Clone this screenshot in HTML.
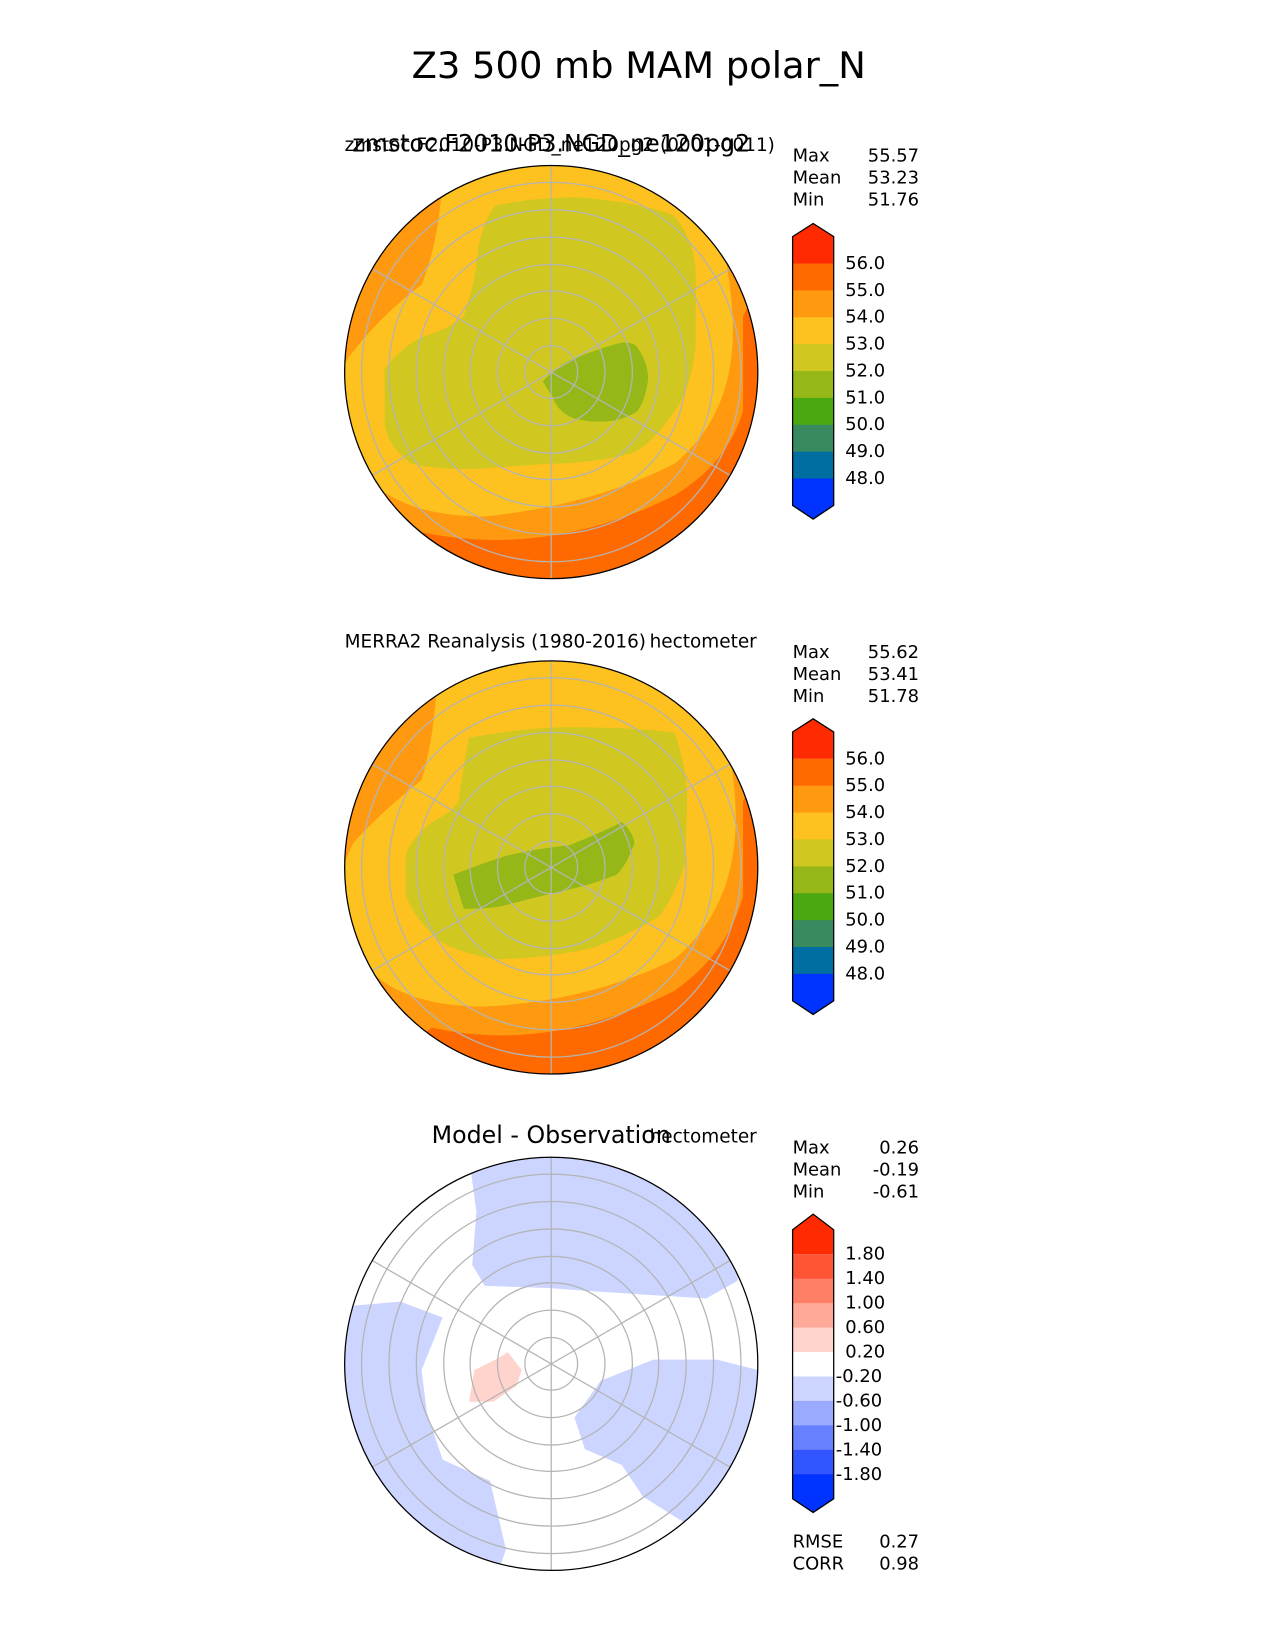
<!DOCTYPE html>
<html><head><meta charset="utf-8"><style>
html,body{margin:0;padding:0;background:#fff;}
svg{display:block;font-family:"DejaVu Sans","Liberation Sans",sans-serif;}
</style></head><body>
<svg id="fig" width="1275" height="1650" viewBox="0 0 1209.7 1565.5" preserveAspectRatio="none">
<defs>
<clipPath id="c1"><circle cx="523" cy="353" r="196"/></clipPath>
<clipPath id="c2"><circle cx="523" cy="823" r="196"/></clipPath>
<clipPath id="c3"><circle cx="523" cy="1294" r="196"/></clipPath>
</defs>
<text x="606" y="62" font-size="35" text-anchor="middle" dominant-baseline="central">Z3 500 mb MAM polar_N</text>

<!-- Panel 1 -->
<g clip-path="url(#c1)">
<rect x="320" y="150" width="410" height="410" fill="#ff9a10"/>
<path d="M320,335 Q330,280 350,250 Q360,225 375,200 L320,200 Z" fill="#ff6a00"/>
<path d="M400,505 Q520,530 640,470 Q690,440 705,390 L705,300 L715,280 L730,560 L320,560 Z" fill="#ff6a00"/>
<path d="M420,150 L640,150 Q690,200 695,300 Q700,390 640,440 Q560,480 460,490 Q380,490 345,450 Q320,420 320,360 L330,340 Q360,300 400,270 Q420,220 420,150 Z" fill="#fdc120"/>
<path d="M470,195 Q520,185 560,188 Q620,195 640,205 Q660,230 660,260 L660,330 Q655,370 640,390 Q620,420 600,430 Q560,440 520,440 L450,445 Q410,445 390,440 Q365,420 365,400 L365,350 Q380,330 400,320 Q430,310 440,300 Q450,270 452,250 Q455,215 470,195 Z" fill="#d0c820"/>
<path d="M515,362 Q525,350 540,342 Q570,330 590,325 Q603,325 605,330 Q615,345 615,360 Q612,380 605,390 Q590,400 570,400 Q550,400 540,395 Q528,388 525,378 Z" fill="#95b818"/>
</g>
<g clip-path="url(#c1)" class="grid" id="g1"></g>
<circle cx="523" cy="353" r="196" fill="none" stroke="#000" stroke-width="1.2"/>
<text x="327" y="138" font-size="17.5" dominant-baseline="central">zmstoc.F2010-P3.NGD_ne120pg2 (0001-0011)</text>
<text x="523" y="136" font-size="22.5" text-anchor="middle" dominant-baseline="central">zmstoc.F2010-P3.NGD_ne120pg2</text>

<!-- Panel 2 -->
<g clip-path="url(#c2)">
<rect x="320" y="620" width="410" height="410" fill="#ff9a10"/>
<path d="M320,800 Q335,750 350,720 Q360,690 370,665 L320,660 Z" fill="#ff6a00"/>
<path d="M410,975 Q520,1000 640,940 Q690,905 705,850 L705,760 L715,740 L730,1030 L320,1030 Z" fill="#ff6a00"/>
<path d="M415,620 L640,620 Q695,670 698,770 Q700,860 640,910 Q560,950 460,955 Q385,955 350,920 Q322,890 322,830 L335,800 Q362,770 400,740 Q415,690 415,620 Z" fill="#fdc120"/>
<path d="M445,700 Q500,690 540,690 Q600,690 640,695 Q652,730 652,760 L650,820 Q640,850 625,870 Q590,890 560,900 Q510,910 470,910 Q440,905 420,895 Q395,875 385,850 L385,810 Q395,790 410,780 Q430,770 435,760 Q440,725 445,700 Z" fill="#d0c820"/>
<path d="M430,830 Q455,820 480,812 Q510,805 540,802 Q570,790 590,780 Q600,788 602,800 Q595,820 585,830 Q560,840 535,845 Q505,852 475,860 Q455,863 440,862 Z" fill="#95b818"/>
</g>
<g clip-path="url(#c2)" id="g2"></g>
<circle cx="523" cy="823" r="196" fill="none" stroke="#000" stroke-width="1.2"/>
<text x="327" y="609" font-size="17.5" dominant-baseline="central">MERRA2 Reanalysis (1980-2016)</text>
<text x="718" y="609" font-size="17.5" text-anchor="end" dominant-baseline="central">hectometer</text>

<!-- Panel 3 -->
<g clip-path="url(#c3)">
<rect x="320" y="1090" width="410" height="410" fill="#fff"/>
<path d="M445,1098 L700,1098 L700,1215 L670,1232 L560,1225 L520,1222 L460,1220 L448,1200 L452,1150 Z" fill="#ccd5ff"/>
<path d="M320,1240 L380,1235 L420,1250 L400,1300 L405,1340 L420,1385 L465,1405 L480,1470 L470,1500 L320,1500 Z" fill="#ccd5ff"/>
<path d="M545,1345 L570,1310 L620,1290 L680,1290 L720,1300 L720,1450 L650,1445 L610,1420 L590,1390 L555,1375 Z" fill="#ccd5ff"/>
<path d="M445,1330 L450,1300 L470,1290 L482,1283 L495,1300 L490,1315 L468,1330 Z" fill="#ffd4cc"/>
</g>
<g clip-path="url(#c3)" id="g3"></g>
<circle cx="523" cy="1294" r="196" fill="none" stroke="#000" stroke-width="1.2"/>
<text x="523" y="1077" font-size="22.5" text-anchor="middle" dominant-baseline="central">Model - Observation</text>
<text x="718" y="1079" font-size="17.5" text-anchor="end" dominant-baseline="central">hectometer</text>

<g id="bars"></g>
</svg>
<script>
// colorbar levels and colors
const absLevels = ["56.0","55.0","54.0","53.0","52.0","51.0","50.0","49.0","48.0"];
const absColors = ["#ff2a00","#ff6a00","#ff9a10","#fdc120","#d0c820","#95b818","#4ca810","#3a8a60","#006ea0","#0033ff"];
const diffLevels = ["1.80","1.40","1.00","0.60","0.20","-0.20","-0.60","-1.00","-1.40","-1.80"];
const diffColors = ["#ff2a00","#ff5535","#ff7f66","#ffaa99","#ffd4cc","#ffffff","#ccd5ff","#99aaff","#6680ff","#3355ff","#0033ff"];
const statNames = ["Max","Mean","Min"];
const modelStats = ["55.57","53.23","51.76"];
const obsStats = ["55.62","53.41","51.78"];
const diffStats = ["0.26","-0.19","-0.61"];
const metricNames = ["RMSE","CORR"];
const metricValues = ["0.27","0.98"];
const ringRadii = [25,51,77,102,128,154,180];
const meridianAngles = [90,30,-30];

const NS="http://www.w3.org/2000/svg";
function mk(tag,attrs,parent){const e=document.createElementNS(NS,tag);for(const k in attrs)e.setAttribute(k,attrs[k]);parent.appendChild(e);return e;}

[["g1",353],["g2",823],["g3",1294]].forEach(([id,cy])=>{
  const g=document.getElementById(id);
  ringRadii.forEach(r=>{
    const c=mk("circle",{cx:523,cy:cy,r:r,fill:"none",stroke:"#b4b4b4","stroke-width":1.2},g);
    
    
  });
  meridianAngles.forEach(a=>{
    const t=a*Math.PI/180, R=200;
    const l=mk("line",{x1:523-R*Math.cos(t),y1:cy+R*Math.sin(t),x2:523+R*Math.cos(t),y2:cy-R*Math.sin(t),stroke:"#b4b4b4","stroke-width":1.2},g);
    
    
  });
});

const bars=document.getElementById("bars");
function colorbar(top,levels,colors,step,name){
  const g=mk("g",{},bars);
  
  
  const x0=752,x1=791,xm=771.5;
  const first=top+38, n=levels.length;
  const yAt=i=>first+i*step;
  const rectTop=yAt(0)-step, rectBot=yAt(n-1)+step;
  colors.forEach((c,i)=>{
    let y0=yAt(i-1), y1=yAt(i);
    if(i===0){
      const p=mk("path",{d:`M${x0},${y1} L${x0},${rectTop} L${xm},${top} L${x1},${rectTop} L${x1},${y1} Z`,fill:c},g);
      
      
    } else if(i===colors.length-1){
      const p=mk("path",{d:`M${x0},${y0} L${x0},${rectBot} L${xm},${rectBot+13} L${x1},${rectBot} L${x1},${y0} Z`,fill:c},g);
      
      
    } else {
      const r=mk("rect",{x:x0,y:y0,width:x1-x0,height:y1-y0+0.5,fill:c},g);
      
      
    }
  });
  const o=mk("path",{d:`M${x0},${rectTop} L${xm},${top} L${x1},${rectTop} L${x1},${rectBot} L${xm},${rectBot+13} L${x0},${rectBot} Z`,fill:"none",stroke:"#000","stroke-width":1.2},g);
  
  
  levels.forEach((l,i)=>{
    const t=mk("text",{x:l.startsWith("-")?793:802,y:yAt(i),"font-size":17,"dominant-baseline":"central"},g);
    t.textContent=l;
    
    
  });
}
function stats(y,vals,names,name){
  names.forEach((n,i)=>{
    const a=mk("text",{x:752,y:y+i*21,"font-size":17,"dominant-baseline":"central"},bars);
    a.textContent=n;
    
    
    const b=mk("text",{x:872,y:y+i*21,"font-size":17,"text-anchor":"end","dominant-baseline":"central"},bars);
    b.textContent=vals[i];
    
    
  });
}
colorbar(212,absLevels,absColors,25.5,"model-colorbar");
colorbar(682,absLevels,absColors,25.5,"obs-colorbar");
colorbar(1152,diffLevels,diffColors,23.2,"diff-colorbar");
stats(148,modelStats,statNames,"model-stat");
stats(619,obsStats,statNames,"obs-stat");
stats(1089,diffStats,statNames,"diff-stat");
stats(1463,metricValues,metricNames,"diff-metric");
</script>
</body></html>
